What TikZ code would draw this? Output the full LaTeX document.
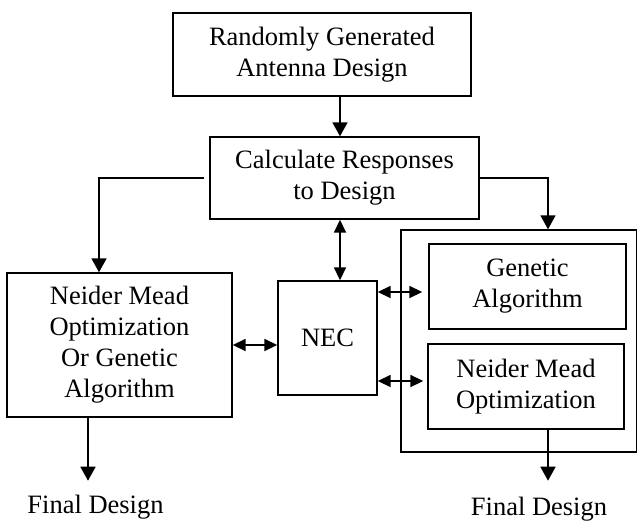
\documentclass[tikz,border=0pt]{standalone}
\usepackage{fontspec}
\setmainfont{Liberation Serif}
\usepackage{tikz}
\usetikzlibrary{shapes,arrows,arrows.meta}
\tikzstyle{block} = [draw,rectangle,line width=1.4pt,inner sep=0pt,align=center,font=\fontsize{26.5pt}{31pt}\selectfont]
\tikzstyle{frame} = [draw,rectangle,line width=1.4pt,inner sep=0pt]
\tikzstyle{endText} = [inner sep=0pt,font=\fontsize{26.5pt}{31pt}\selectfont]
\tikzstyle{arrowLine} = [draw,line width=1.8pt,-{Triangle[length=14pt,width=15pt]}]
\tikzstyle{doubleArrow} = [draw,line width=1.8pt,{Triangle[length=13pt,width=12pt]}-{Triangle[length=13pt,width=12pt]}]

\begin{document}
\begin{tikzpicture}
		\useasboundingbox (0,0) rectangle (638pt,-522pt);
		\node[block,minimum width=298pt,minimum height=83pt](randomDesign) at (322pt,-54.5pt){Randomly Generated\\Antenna Design};
		\node[block,node distance=123.5pt,below of=randomDesign,xshift=22.5pt,minimum width=269pt,minimum height=82pt](calcResponses){Calculate Responses\\to Design};
		\node[block,node distance=160pt,below of=calcResponses,xshift=-17pt,minimum width=99pt,minimum height=114pt](nec){NEC};
		\node[block,node distance=208pt,left of=nec,yshift=-7pt,minimum width=225pt,minimum height=144pt](leftOpt){Neider Mead\\Optimization\\Or Genetic\\Algorithm};
		\node[block,node distance=200pt,right of=nec,yshift=51.5pt,minimum width=197pt,minimum height=85pt](genetic){Genetic\\Algorithm};
		\node[block,node distance=100pt,below of=genetic,xshift=-1.5pt,minimum width=196pt,minimum height=85pt](neiderMead){Neider Mead\\Optimization};
		\node[frame,node distance=191.25pt,right of=nec,yshift=-3pt,minimum width=235.5pt,minimum height=222pt](optBox){};
		\node[endText,node distance=162pt,below of=leftOpt,xshift=-24pt](leftFinal){Final Design};
		\node[endText,node distance=122.5pt,below of=neiderMead,xshift=13pt](rightFinal){Final Design};
		\coordinate(leftEnd) at ([xshift=-31.5pt,yshift=-63pt]leftOpt.south);
		\coordinate(rightEnd) at ([xshift=22pt,yshift=-51pt]neiderMead.south);
		%arrows
		\path[arrowLine]([xshift=18pt]randomDesign.south)--([xshift=18pt]randomDesign.south |- calcResponses.north);
		\path[arrowLine,shorten <=5pt](calcResponses.west)-|([xshift=-20.5pt]leftOpt.north);
		\path[arrowLine](calcResponses.east)-|([xshift=29.25pt]optBox.north);
		\path[doubleArrow]([xshift=-4.5pt]calcResponses.south)--([xshift=-4.5pt]calcResponses.south |- nec.north);
		\path[doubleArrow](leftOpt.east)--(leftOpt.east -| nec.west);
		\path[doubleArrow,shorten >=6pt]([yshift=-5.5pt]genetic.west -| nec.east)--([yshift=-5.5pt]genetic.west);
		\path[doubleArrow,shorten >=4pt]([yshift=5.5pt]neiderMead.west -| nec.east)--([yshift=5.5pt]neiderMead.west);
		\path[arrowLine]([xshift=-31.5pt]leftOpt.south)--(leftEnd);
		\path[arrowLine]([xshift=22pt]neiderMead.south)--(rightEnd);
	\end{tikzpicture}
\end{document}
